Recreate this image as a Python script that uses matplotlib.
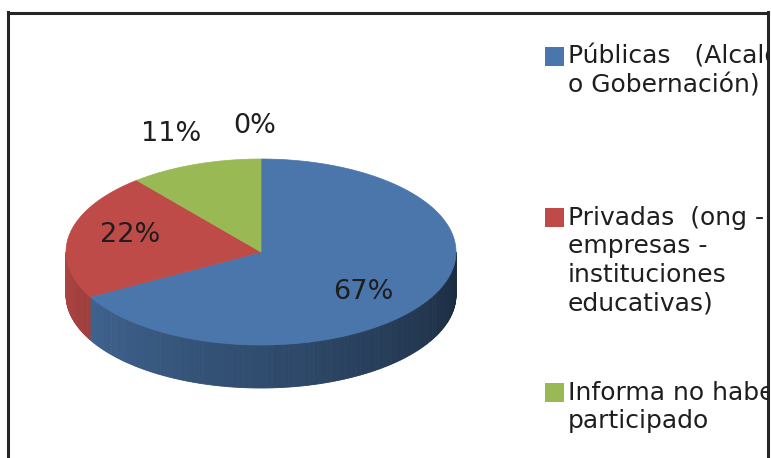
import numpy as np
import matplotlib
matplotlib.use("Agg")
import matplotlib.pyplot as plt
from matplotlib.patches import Polygon, Rectangle
import matplotlib.colors as mcolors

# ---------------- data ----------------
categories = ["Públicas   (Alcaldía\no Gobernación)",
              "Privadas  (ong -\nempresas -\ninstituciones\neducativas)",
              "Informa no haber\nparticipado",
              "No responde"]
values = [67, 22, 11, 0]
pct_labels = ["67%", "22%", "11%", "0%"]
colors = ["#4a76ab", "#be4b48", "#98b954", "#7f63a1"]

# ---------------- layout ----------------
W, H = 771, 458
fig = plt.figure(figsize=(W / 100, H / 100), dpi=100)
fx0, fx1, fy0 = 8, 767.5, 12.5
ax = fig.add_axes([fx0 / W, -0.01, (fx1 - fx0) / W, 1 - fy0 / H + 0.01])
ax.set_xlim(fx0, fx1)
ax.set_ylim(H + 4.58, fy0)
ax.set_xticks([])
ax.set_yticks([])
for s in ["left", "right", "top"]:
    ax.spines[s].set_linewidth(2.2)
    ax.spines[s].set_color("#262626")
ax.spines["bottom"].set_visible(False)

FONT = ["DejaVu Sans"]
TXT = "#1e1e1e"

cx, cy, rx, ry, depth = 261, 252, 195, 93, 43
label_offsets = [(-15, 7), (3, -5), (0, 1), (-6, 0)]   # pixel nudges


def pt(theta_deg, dz=0.0):
    t = np.deg2rad(theta_deg)
    return cx + rx * np.cos(t), cy - ry * np.sin(t) + dz


def shade(color, theta):
    th = theta % 360
    f = 0.86 - (th - 200) / 140 * 0.44
    f = min(max(f, 0.38), 0.92)
    r, g, b = mcolors.to_rgb(color)
    return (r * f, g * f, b * f)


total = float(sum(values))
starts, ends = [], []
a = 90.0
for v in values:
    sweep = 360.0 * v / total
    starts.append(a)
    ends.append(a - sweep)
    a -= sweep

# ---- side walls (front half only) ----
for v, s, e, col in zip(values, starts, ends, colors):
    if v <= 0:
        continue
    for k in (-360, 0, 360):
        lo = max(e, -180 + k)
        hi = min(s, 0 + k)
        if hi <= lo:
            continue
        n = max(2, int((hi - lo) / 0.75))
        th = np.linspace(lo, hi, n + 1)
        for t0, t1 in zip(th[:-1], th[1:]):
            p0 = pt(t0); p1 = pt(t1)
            q1 = pt(t1, depth); q0 = pt(t0, depth)
            c = shade(col, (t0 + t1) / 2)
            ax.add_patch(Polygon([p0, p1, q1, q0], closed=True,
                                 facecolor=c, edgecolor=c, linewidth=0.6))

# ---- top face ----
for v, s, e, col in zip(values, starts, ends, colors):
    if v <= 0:
        continue
    th = np.linspace(s, e, max(3, int(abs(s - e) * 2)))
    pts = [(cx, cy)] + [pt(t) for t in th]
    ax.add_patch(Polygon(pts, closed=True, facecolor=col, edgecolor=col,
                         linewidth=0.5))

# ---- percentage labels ----
for v, s, e, lab, (ox, oy) in zip(values, starts, ends, pct_labels,
                                  label_offsets):
    mid = (s + e) / 2
    r = 0.70 if v >= 15 else 1.36
    t = np.deg2rad(mid)
    x = cx + r * rx * np.cos(t) + ox
    y = cy - r * ry * np.sin(t) + oy
    ax.text(x, y, lab, ha="center", va="center", fontsize=19.5,
            family=FONT, color=TXT)

# ---- legend (clipped by frame, as in the reference) ----
leg_x_box, leg_x_txt = 545, 568
leg_y = [57, 218, 393, 560]
line_h = 28.5
for lab, col, y0 in zip(categories, colors, leg_y):
    if y0 > H:
        continue  # entry lies below the visible part of the frame
    ax.add_patch(Rectangle((leg_x_box, y0 - 10), 19, 19, facecolor=col,
                           edgecolor="none", clip_on=True))
    for i, line in enumerate(lab.split("\n")):
        ax.text(leg_x_txt, y0 + i * line_h, line, ha="left", va="center",
                fontsize=18, family=FONT, color=TXT, clip_on=True)

fig.savefig("out.png", dpi=100)
